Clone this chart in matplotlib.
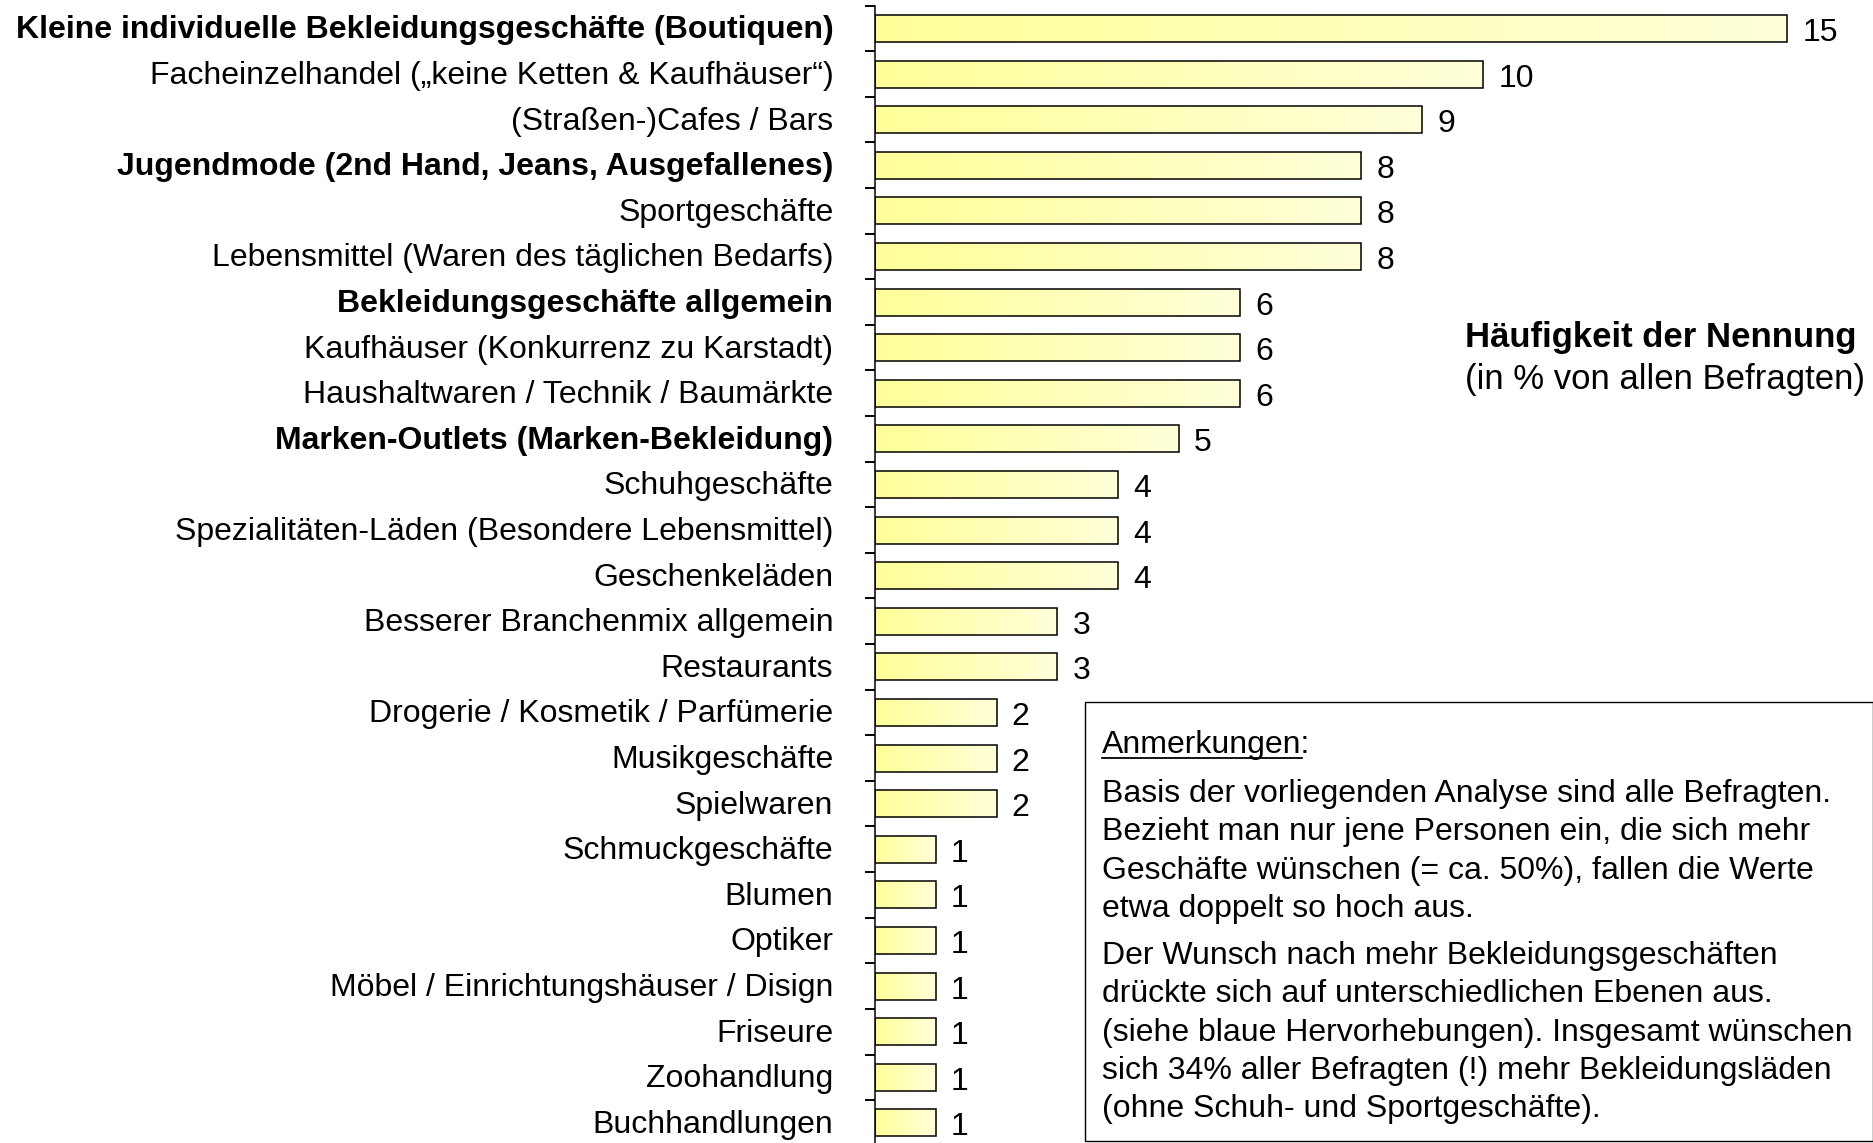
import matplotlib
matplotlib.use("Agg")
import matplotlib.pyplot as plt
import numpy as np
from matplotlib.colors import LinearSegmentedColormap
from matplotlib.patches import Rectangle
from matplotlib.lines import Line2D
from matplotlib.transforms import ScaledTranslation

plt.rcParams['font.family'] = ['Liberation Sans', 'DejaVu Sans']

categories = [
    "Kleine individuelle Bekleidungsgeschäfte (Boutiquen)",
    "Facheinzelhandel („keine Ketten & Kaufhäuser“)",
    "(Straßen-)Cafes / Bars",
    "Jugendmode (2nd Hand, Jeans, Ausgefallenes)",
    "Sportgeschäfte",
    "Lebensmittel (Waren des täglichen Bedarfs)",
    "Bekleidungsgeschäfte allgemein",
    "Kaufhäuser (Konkurrenz zu Karstadt)",
    "Haushaltwaren / Technik / Baumärkte",
    "Marken-Outlets (Marken-Bekleidung)",
    "Schuhgeschäfte",
    "Spezialitäten-Läden (Besondere Lebensmittel)",
    "Geschenkeläden",
    "Besserer Branchenmix allgemein",
    "Restaurants",
    "Drogerie / Kosmetik / Parfümerie",
    "Musikgeschäfte",
    "Spielwaren",
    "Schmuckgeschäfte",
    "Blumen",
    "Optiker",
    "Möbel / Einrichtungshäuser / Disign",
    "Friseure",
    "Zoohandlung",
    "Buchhandlungen",
]
values = [15, 10, 9, 8, 8, 8, 6, 6, 6, 5, 4, 4, 4, 3, 3, 2, 2, 2, 1, 1, 1, 1, 1, 1, 1]
bold_rows = [0, 3, 6, 9]

title_main = "Häufigkeit der Nennung"
title_sub = "(in % von allen Befragten)"
note_head = "Anmerkungen"
note_par1 = ["Basis der vorliegenden Analyse sind alle Befragten.",
             "Bezieht man nur jene Personen ein, die sich mehr",
             "Geschäfte wünschen (= ca. 50%), fallen die Werte",
             "etwa doppelt so hoch aus."]
note_par2 = ["Der Wunsch nach mehr Bekleidungsgeschäften",
             "drückte sich auf unterschiedlichen Ebenen aus.",
             "(siehe blaue Hervorhebungen). Insgesamt wünschen",
             "sich 34% aller Befragten (!) mehr Bekleidungsläden",
             "(ohne Schuh- und Sportgeschäfte)."]

W, H = 1874, 1143
fig = plt.figure(figsize=(W / 100, H / 100), dpi=100)
fig.patch.set_facecolor("white")

def fx(px):
    return px / W

def fy(py):
    return 1 - py / H

ax_left, ax_top, ax_bot = 875, 5.7, 1145.7
ax = fig.add_axes([fx(ax_left), fy(ax_bot), 1 - fx(ax_left), (ax_bot - ax_top) / H])
ax.set_facecolor("none")
n = len(categories)
ypos = np.arange(n)

bar_h = 0.59
fs = 23
fs_title = 25
cmap = LinearSegmentedColormap.from_list("barfill", ["#FFFF99", "#FFFFDA"])
grad = np.linspace(0, 1, 256).reshape(1, -1)

bars = ax.barh(ypos, values, height=bar_h, facecolor="none",
               edgecolor="black", linewidth=1.1, zorder=3)
for rect, v, y in zip(bars, values, ypos):
    im = ax.imshow(grad, cmap=cmap, aspect="auto", interpolation="bicubic",
                   extent=[0, v, y + bar_h / 2, y - bar_h / 2], zorder=2)
    im.set_clip_path(rect)
    ax.text(v + 0.25, y + 0.1, f"{v}", va="center", ha="left", fontsize=fs)

ax.set_xlim(0, (W - ax_left) / 60.8)
ax.set_ylim(n - 0.5, -0.5)

for s in ["top", "right", "bottom"]:
    ax.spines[s].set_visible(False)
ax.spines["left"].set_linewidth(1.1)
ax.xaxis.set_visible(False)

ax.set_yticks(ypos)
ax.set_yticklabels(categories, fontsize=fs)
ax.tick_params(axis="y", which="major", length=0, pad=30)
shift_up = ScaledTranslation(0, 1.2 / 72, fig.dpi_scale_trans)
for i, lbl in enumerate(ax.get_yticklabels()):
    if i in bold_rows:
        lbl.set_fontweight("bold")
    lbl.set_transform(lbl.get_transform() + shift_up)
ax.set_yticks(np.arange(n + 1) - 0.5, minor=True)
ax.tick_params(axis="y", which="minor", length=7, width=1.4, direction="out")

fig.text(fx(1465), fy(338), title_main, fontsize=fs_title, fontweight="bold",
         ha="left", va="center")
fig.text(fx(1465), fy(379), title_sub, fontsize=fs_title, ha="left", va="center")

box = Rectangle((fx(1085), fy(1141)), fx(1873) - fx(1085), (1141 - 702) / H,
                transform=fig.transFigure, facecolor="white", edgecolor="black",
                linewidth=1.0, zorder=5)
fig.add_artist(box)

tx = fx(1102)
head = fig.text(tx, fy(745), note_head + ":", fontsize=fs, ha="left", va="center", zorder=6)
probe = fig.text(tx, fy(745), note_head, fontsize=fs, ha="left", va="center", alpha=0)
for i, line in enumerate(note_par1):
    fig.text(tx, fy(794 + i * 38.3), line, fontsize=fs, ha="left", va="center", zorder=6)
for i, line in enumerate(note_par2):
    fig.text(tx, fy(956 + i * 38.3), line, fontsize=fs, ha="left", va="center", zorder=6)

fig.canvas.draw()
bb = probe.get_window_extent().transformed(fig.transFigure.inverted())
uy = bb.y0 + 2 / H
fig.add_artist(Line2D([bb.x0, bb.x1], [uy, uy], transform=fig.transFigure,
                      color="black", linewidth=1.3, zorder=6))

fig.savefig("out.png", dpi=100, facecolor="white")
